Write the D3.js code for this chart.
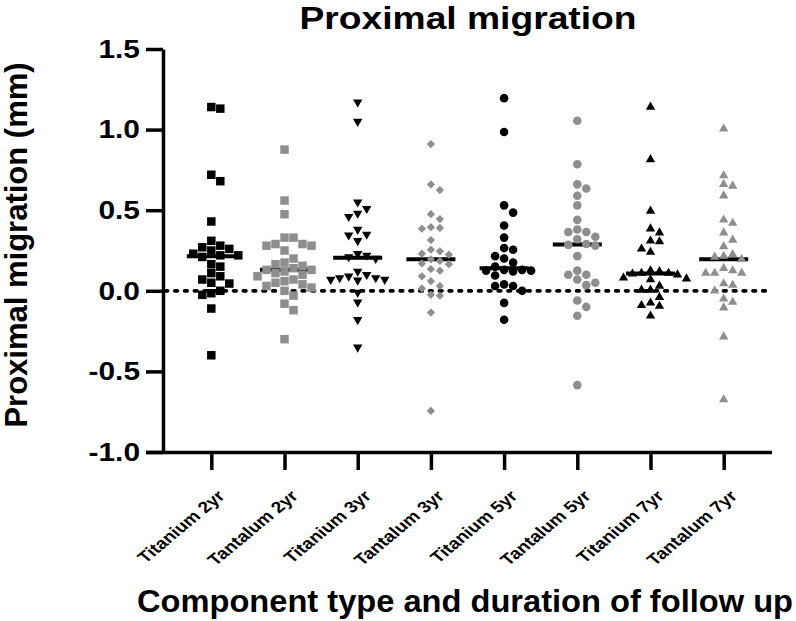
<!DOCTYPE html>
<html>
<head>
<meta charset="utf-8">
<script src="https://cdn.jsdelivr.net/npm/d3@7"></script>
<style>
  body { margin: 0; background: #fff; }
  svg text { font-family: "Liberation Sans", Arial, sans-serif; font-weight: bold; fill: #000; }
</style>
</head>
<body>
<div id="chart"></div>
<script>
var width = 796, height = 621;

var categories = ["Titanium 2yr", "Tantalum 2yr", "Titanium 3yr", "Tantalum 3yr",
                  "Titanium 5yr", "Tantalum 5yr", "Titanium 7yr", "Tantalum 7yr"];
var yTicks = [-1.0, -0.5, 0.0, 0.5, 1.0, 1.5];

// migration values (mm)
var titanium2yr = [1.14, 1.13, 0.72, 0.68, 0.43, 0.31, 0.28, 0.27, 0.26, 0.25, 0.23, 0.22, 0.22,
                   0.21, 0.165, 0.15, 0.11, 0.09, 0.07, 0.05, 0.045, 0.0, -0.015, -0.025, -0.11, -0.40];
var tantalum2yr = [0.876, 0.56, 0.475, 0.33, 0.33, 0.29, 0.29, 0.28, 0.28, 0.25, 0.2, 0.175, 0.165,
                   0.155, 0.14, 0.13, 0.13, 0.12, 0.11, 0.10, 0.09, 0.07, 0.06, 0.05, 0.04, 0.03,
                   0.02, 0.0, -0.03, -0.08, -0.12, -0.30];
var titanium3yr = [1.17, 1.05, 0.55, 0.51, 0.48, 0.46, 0.38, 0.35, 0.345, 0.31, 0.23, 0.22, 0.21,
                   0.2, 0.12, 0.1, 0.09, 0.08, 0.08, 0.07, 0.07, 0.065, -0.01, -0.07, -0.18, -0.35];
var tantalum3yr = [0.91, 0.66, 0.625, 0.475, 0.445, 0.395, 0.39, 0.385, 0.315, 0.255, 0.245, 0.23,
                   0.225, 0.195, 0.185, 0.17, 0.165, 0.135, 0.125, 0.09, 0.06, 0.03, 0.015, -0.025,
                   -0.03, -0.135, -0.745];
var titanium5yr = [1.195, 0.985, 0.53, 0.485, 0.405, 0.33, 0.265, 0.255, 0.215, 0.2, 0.175, 0.15,
                   0.13, 0.13, 0.125, 0.125, 0.12, 0.095, 0.04, 0.03, 0.03, 0.0, -0.075, -0.18];
var tantalum5yr = [1.055, 0.785, 0.66, 0.635, 0.59, 0.53, 0.44, 0.38, 0.365, 0.365, 0.335, 0.32,
                   0.29, 0.285, 0.28, 0.215, 0.125, 0.1, 0.1, 0.07, 0.05, 0.035, -0.06, -0.1, -0.155, -0.585];
var titanium7yr = [1.14, 0.815, 0.495, 0.385, 0.36, 0.31, 0.305, 0.26, 0.24, 0.125, 0.12, 0.11,
                   0.11, 0.105, 0.1, 0.08, 0.075, 0.07, 0.03, 0.005, 0.005, -0.04, -0.075, -0.09,
                   -0.095, -0.155];
var tantalum7yr = [1.005, 0.715, 0.66, 0.65, 0.59, 0.44, 0.42, 0.36, 0.315, 0.275, 0.225, 0.215,
                   0.21, 0.195, 0.14, 0.125, 0.11, 0.11, 0.11, 0.045, 0.035, 0.0, -0.05, -0.07,
                   -0.105, -0.285, -0.675];

var seriesValues = [titanium2yr, tantalum2yr, titanium3yr, tantalum3yr,
                    titanium5yr, tantalum5yr, titanium7yr, tantalum7yr];
var markerShapes = ["square", "square", "down", "diamond", "circle", "circle", "up", "up"];
var markerColors = ["#000000", "#8e8e8e", "#000000", "#8e8e8e", "#000000", "#8e8e8e", "#000000", "#8e8e8e"];

var svg = d3.select("#chart").append("svg")
    .attr("width", width)
    .attr("height", height);

var x = d3.scalePoint().domain(categories).range([163, 772]).padding(0.66);
var y = d3.scaleLinear().domain([-1, 1.5]).range([452, 49]);

// symbol for each shape
function symbolPath(shape) {
    if (shape === "square") return d3.symbol(d3.symbolSquare, 72)();
    if (shape === "diamond") return d3.symbol(d3.symbolSquare, 34)();
    if (shape === "circle") return d3.symbol(d3.symbolCircle, 58)();
    return d3.symbol(d3.symbolTriangle, 38)();
}
function symbolRotate(shape) {
    if (shape === "diamond") return " rotate(45)";
    if (shape === "down") return " rotate(180)";
    return "";
}

// simple column scatter layout, like the Prism dot plot
function swarm(values, cx) {
    var pts = values.map(function (v) { return {v: v, py: y(v)}; });
    pts.sort(function (a, b) { return a.py - b.py; });
    var step = 9, gap = 8.2;
    var placed = [];
    pts.forEach(function (p) {
        for (var i = 0; i < 20; i++) {
            var k = i === 0 ? 0 : (i % 2 ? (i + 1) / 2 : -i / 2);
            var hit = placed.some(function (q) { return q.k === k && Math.abs(q.py - p.py) < gap; });
            if (!hit) { p.k = k; break; }
        }
        placed.push(p);
        p.px = cx + p.k * step;
    });
    return pts;
}

// zero reference line
svg.append("line")
    .attr("x1", 165).attr("x2", 768)
    .attr("y1", y(0)).attr("y2", y(0))
    .attr("stroke", "#000")
    .attr("stroke-width", 3.8)
    .attr("stroke-linecap", "round")
    .attr("stroke-dasharray", "2.5,7.3");

// medians
svg.append("g").selectAll("line")
    .data(categories)
    .join("line")
    .attr("x1", function (d) { return x(d) - 24.5; })
    .attr("x2", function (d) { return x(d) + 24.5; })
    .attr("y1", function (d, i) { return y(d3.median(seriesValues[i])); })
    .attr("y2", function (d, i) { return y(d3.median(seriesValues[i])); })
    .attr("stroke", "#000")
    .attr("stroke-width", 4);

// points
categories.forEach(function (cat, i) {
    var pts = swarm(seriesValues[i], x(cat));
    svg.append("g").selectAll("path")
        .data(pts)
        .join("path")
        .attr("d", symbolPath(markerShapes[i]))
        .attr("transform", function (p) { return "translate(" + p.px + "," + p.py + ")" + symbolRotate(markerShapes[i]); })
        .attr("fill", markerColors[i]);
});

// y axis
var yAxis = svg.append("g")
    .attr("transform", "translate(163,0)")
    .call(d3.axisLeft(y).tickValues(yTicks)
        .tickFormat(function (d) { return d3.format(".1f")(d).replace("\u2212", "-"); })
        .tickSize(17).tickSizeOuter(0));
yAxis.selectAll("path, line").attr("stroke", "#000").attr("stroke-width", 3.5);
yAxis.selectAll("text")
    .attr("x", 0)
    .attr("transform", "translate(-23,0) scale(1.15,1)")
    .style("font-size", "26px");

// x axis
var xAxis = svg.append("g")
    .attr("transform", "translate(0,452)")
    .call(d3.axisBottom(x).tickSize(18).tickSizeOuter(0));
xAxis.select(".domain").attr("d", "M146,0.5H772");
xAxis.selectAll("path, line").attr("stroke", "#000").attr("stroke-width", 3.5);
xAxis.selectAll("text")
    .attr("x", 0).attr("y", 0).attr("dy", 0)
    .attr("text-anchor", "end")
    .attr("transform", "translate(14,45) scale(1.2,1) rotate(-45)")
    .style("font-size", "16px");

// titles
svg.append("text")
    .attr("x", 468).attr("y", 29)
    .attr("text-anchor", "middle")
    .attr("textLength", 337).attr("lengthAdjust", "spacingAndGlyphs")
    .style("font-size", "32px")
    .text("Proximal migration");

svg.append("text")
    .attr("transform", "translate(27,245) rotate(-90)")
    .attr("text-anchor", "middle")
    .style("font-size", "31px")
    .text("Proximal migration (mm)");

svg.append("text")
    .attr("x", 137).attr("y", 612)
    .attr("textLength", 656).attr("lengthAdjust", "spacingAndGlyphs")
    .style("font-size", "32px")
    .text("Component type and duration of follow up");
</script>
</body>
</html>
